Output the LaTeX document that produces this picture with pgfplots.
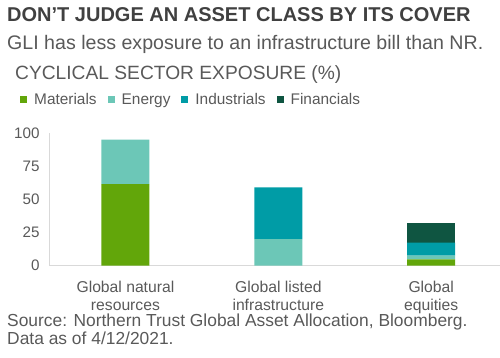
\documentclass[border=0pt]{standalone}
\usepackage{pgfplots}
\pgfplotsset{compat=1.18}
\usepackage{fontspec}
\setmainfont{Liberation Sans}
\definecolor{txt}{HTML}{595959}
\definecolor{ttl}{HTML}{404040}
\definecolor{cMat}{HTML}{62A60A}
\definecolor{cEne}{HTML}{6CC7B7}
\definecolor{cInd}{HTML}{009CA6}
\definecolor{cFin}{HTML}{0F5541}
\definecolor{axl}{HTML}{D9D9D9}
\begin{document}
\begin{tikzpicture}
\useasboundingbox (0pt,0pt) rectangle (500pt,358pt);
\node[anchor=base west,inner sep=0pt,text=ttl,font=\fontsize{20}{22}\selectfont\bfseries] at (7pt,336.5pt) {DON’T JUDGE AN ASSET CLASS BY ITS COVER};
\node[anchor=base west,inner sep=0pt,text=txt,font=\fontsize{19.6}{22}\selectfont] at (7pt,308.3pt) {GLI has less exposure to an infrastructure bill than NR.};
\node[anchor=base west,inner sep=0pt,text=txt,font=\fontsize{19.2}{22}\selectfont] at (15pt,278.5pt) {CYCLICAL SECTOR EXPOSURE (\%)};
\node[anchor=base west,inner sep=0pt,text=txt,font=\fontsize{17.4}{18}\selectfont] at (7pt,31.5pt) {Source: Northern Trust Global Asset Allocation, Bloomberg.};
\node[anchor=base west,inner sep=0pt,text=txt,font=\fontsize{17.4}{18}\selectfont] at (7pt,13.5pt) {Data as of 4/12/2021.};
\begin{axis}[
  at={(49pt,92.3pt)}, anchor=south west,
  scale only axis, width=451pt, height=132.7pt,
  ybar stacked, bar width=48pt,
  xmin=-0.5, xmax=2.45, ymin=0, ymax=100,
  axis x line=bottom, axis y line=left,
  axis line style={draw=axl, line width=1pt, -},
  major tick length=0pt,
  xtick={0,1,2},
  xticklabels={Global natural\\resources, Global listed\\infrastructure, Global\\equities},
  xticklabel style={align=center, text=txt, font=\fontsize{15.7}{18.3}\selectfont, yshift=-12pt},
  ytick={0,25,50,75,100},
  yticklabel style={text=txt, font=\fontsize{15.2}{18}\selectfont, xshift=-6pt},
  /pgf/number format/assume math mode=true,
  legend columns=4,
  legend style={draw=none, fill=none, at={(0,1)}, anchor=west, xshift=-32pt, yshift=33pt,
    font=\fontsize{15.4}{18}\selectfont, text=txt,
    /tikz/every odd column/.append style={column sep=5pt},
    /tikz/every even column/.append style={column sep=9pt}},
  legend image code/.code={\fill[#1] (0pt,-3.5pt) rectangle (7pt,3.5pt);},
  every axis plot/.append style={draw=none},
]
\addplot[fill=cMat] coordinates {(0,61.5) (1,0) (2,4.8)};
\addplot[fill=cEne] coordinates {(0,33.5) (1,20) (2,2.7)};
\addplot[fill=cInd] coordinates {(0,0) (1,39) (2,9.8)};
\addplot[fill=cFin] coordinates {(0,0) (1,0) (2,14.7)};
\legend{Materials, Energy, Industrials, Financials}
\end{axis}
\end{tikzpicture}
\end{document}
